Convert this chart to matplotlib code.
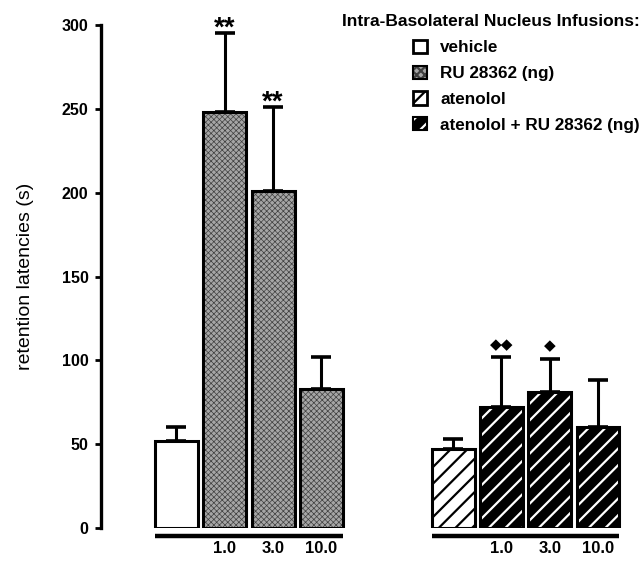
import matplotlib
matplotlib.use('Agg')
import matplotlib.pyplot as plt
from matplotlib.patches import Patch
from matplotlib.legend_handler import HandlerTuple
import numpy as np

plt.rcParams['font.family'] = ['Liberation Sans', 'DejaVu Sans']
plt.rcParams['hatch.linewidth'] = 1.6

# valores
doses = ['', '1.0', '3.0', '10.0']
ru_mean = [52, 248, 201, 83]
ru_sem = [8, 47, 50, 19]
aten_mean = [47, 72, 81, 60]
aten_sem = [6, 30, 20, 28]
sig_ru = ['', '**', '**', '']
sig_aten = ['', '\u25c6\u25c6', '\u25c6', '']
legend_labels = ['vehicle', 'RU 28362 (ng)', 'atenolol', 'atenolol + RU 28362 (ng)']

x_left = np.arange(4)
x_right = np.arange(4) + 5.73
w = 0.89
gray_face = '#a6a6a6'
gray_hatch = '#404040'

fig = plt.figure(figsize=(6.44, 5.61), dpi=100)
ax = fig.add_axes([0.1568, 0.0588, 0.837, 0.8966])

# grupo esquerdo
ax.bar(x_left[0], ru_mean[0], w, facecolor='white', edgecolor='black', linewidth=2.2, zorder=2)
with plt.rc_context({'hatch.linewidth': 0.5}):
    ax.bar(x_left[1:], ru_mean[1:], w, facecolor=gray_face, edgecolor=gray_hatch, hatch='xxxxxx',
           linewidth=0, zorder=2)
ax.bar(x_left[1:], ru_mean[1:], w, facecolor='none', edgecolor='black', linewidth=2.2, zorder=3)

# grupo direito
ax.bar(x_right[0], aten_mean[0], w, facecolor='white', edgecolor='black', hatch='//',
       linewidth=2.2, zorder=2)
ax.bar(x_right[1:], aten_mean[1:], w, facecolor='black', edgecolor='white', hatch='//',
       linewidth=0, zorder=2)
ax.bar(x_right[1:], aten_mean[1:], w, facecolor='none', edgecolor='black', linewidth=2.2, zorder=3)

# barras de erro (só para cima)
for xs, m, s in [(x_left, ru_mean, ru_sem), (x_right, aten_mean, aten_sem)]:
    ax.errorbar(xs, m, yerr=[np.zeros(4), s], fmt='none', ecolor='black', elinewidth=2.2,
                capsize=7, capthick=2.6, zorder=1)

# asteriscos e losangos
for i in range(4):
    if sig_ru[i]:
        ax.text(x_left[i], ru_mean[i] + ru_sem[i] - 5, sig_ru[i], ha='center', va='bottom',
                fontsize=20, fontweight='bold')
    if sig_aten[i]:
        ax.text(x_right[i], aten_mean[i] + aten_sem[i] + 3, sig_aten[i], ha='center', va='bottom',
                fontsize=11, family='DejaVu Sans')

# linha sob cada grupo e doses
for xs in [x_left, x_right]:
    ax.plot([xs[0] - w / 2, xs[-1] + w / 2], [-4.5, -4.5], color='black', lw=3.2,
            clip_on=False, solid_capstyle='butt')
    for xi, d in zip(xs, doses):
        ax.text(xi, -12.5, d, ha='center', va='center', fontsize=12, fontweight='bold')

ax.set_xlim(-1.563, 9.6)
ax.set_ylim(0, 300)
ax.set_yticks([0, 50, 100, 150, 200, 250, 300])
ax.set_xticks([])
for s in ['top', 'right', 'bottom']:
    ax.spines[s].set_visible(False)
ax.spines['left'].set_linewidth(2.4)
ax.tick_params(axis='y', direction='out', length=4, width=2, pad=5, labelsize=11.5)
for lab in ax.get_yticklabels():
    lab.set_fontweight('bold')
ax.set_ylabel('retention latencies (s)', fontsize=14, labelpad=20)

# legenda
h_vehicle = Patch(facecolor='white', edgecolor='black', linewidth=2)
with plt.rc_context({'hatch.linewidth': 0.5}):
    h_ru_fill = Patch(facecolor=gray_face, edgecolor=gray_hatch, hatch='xxxx', linewidth=0)
h_ru = (h_ru_fill, Patch(facecolor='none', edgecolor='black', linewidth=1.5))
h_aten = Patch(facecolor='white', edgecolor='black', hatch='//', linewidth=2)
h_comb = (Patch(facecolor='black', edgecolor='white', hatch='//', linewidth=0),
          Patch(facecolor='none', edgecolor='black', linewidth=1.5))
leg = ax.legend([h_vehicle, h_ru, h_aten, h_comb], legend_labels,
                handler_map={tuple: HandlerTuple(ndivide=1, pad=0)},
                title='Intra-Basolateral Nucleus Infusions:', alignment='right',
                loc='upper right', bbox_to_anchor=(1.0, 1.021), frameon=False,
                prop={'weight': 'bold', 'size': 12.3}, handlelength=0.82, handleheight=0.82,
                handletextpad=0.76, labelspacing=0.6, borderaxespad=0, borderpad=0)
leg.get_title().set_fontweight('bold')
leg.get_title().set_fontsize(12.5)

fig.savefig('out.png', dpi=100)
